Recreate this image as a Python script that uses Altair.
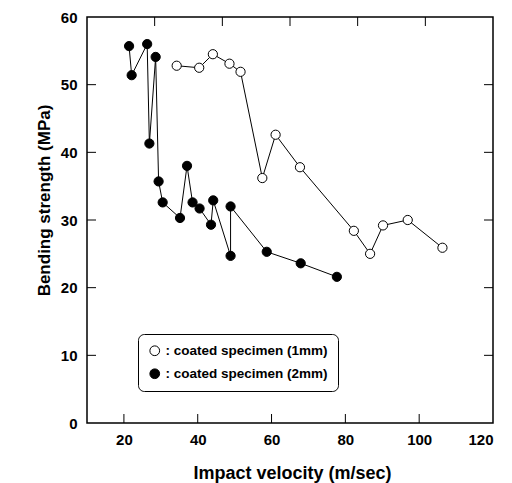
import altair as alt
import pandas as pd

# Data
x_1mm = [34.3, 40.4, 44.1, 48.6, 51.6, 57.5, 61.1, 67.7, 82.3, 86.7, 90.2, 96.9, 106.3]
y_1mm = [52.8, 52.5, 54.5, 53.1, 51.9, 36.2, 42.6, 37.8, 28.4, 25.0, 29.2, 30.0, 25.9]

x_2mm = [21.4, 22.1, 26.3, 26.9, 28.6, 29.4, 30.5, 35.2, 37.1, 38.6, 40.5, 43.6, 44.2, 48.9, 48.9, 58.7, 67.9, 77.7]
y_2mm = [55.7, 51.4, 56.0, 41.3, 54.1, 35.7, 32.6, 30.3, 38.0, 32.6, 31.7, 29.3, 32.9, 24.7, 32.0, 25.3, 23.6, 21.6]

series_names = [": coated specimen (1mm)", ": coated specimen (2mm)"]
x_tick_labels = [20, 40, 60, 80, 100, 120]
x_inner_ticks = [20, 40, 60, 80, 100]
x_top_ticks = [28.33, 46.67, 65.0, 83.33, 101.67]
y_tick_labels = [0, 10, 20, 30, 40, 50, 60]
y_inner_ticks = [10, 20, 30, 40, 50]

rows = []
for i, (a, b) in enumerate(zip(x_1mm, y_1mm)):
    rows.append({"series": series_names[0], "x": a, "y": b, "idx": i})
for i, (a, b) in enumerate(zip(x_2mm, y_2mm)):
    rows.append({"series": series_names[1], "x": a, "y": b, "idx": i})
df = pd.DataFrame(rows)

W, H = 406, 406
FONT = "Liberation Sans"

xscale = alt.Scale(domain=[10, 120], nice=False, zero=False)
yscale = alt.Scale(domain=[0, 60], nice=False)

xaxis = alt.Axis(values=x_tick_labels, title="Impact velocity (m/sec)", ticks=False, domain=False,
                 grid=False, labelFont=FONT, labelFontSize=15, labelFontWeight="bold",
                 labelPadding=9, labelColor="black",
                 titleFont=FONT, titleFontSize=18, titleFontWeight="bold", titleColor="black",
                 titleX=205, titleY=50, titleBaseline="middle", titleAlign="center")
yaxis = alt.Axis(values=y_tick_labels, title="Bending strength (MPa)", ticks=False, domain=False,
                 grid=False, labelFont=FONT, labelFontSize=15, labelFontWeight="bold",
                 labelPadding=10, labelColor="black",
                 titleFont=FONT, titleFontSize=17, titleFontWeight="bold", titleColor="black",
                 titleAngle=270, titleX=-43, titleY=183, titleBaseline="middle", titleAlign="center")

base = alt.Chart(df)

lines = base.mark_line(color="black", strokeWidth=1).encode(
    x=alt.X("x:Q", scale=xscale, axis=xaxis),
    y=alt.Y("y:Q", scale=yscale, axis=yaxis),
    detail="series:N",
    order=alt.Order("idx:Q"),
)

points = base.mark_point(shape="circle", filled=True, stroke="black", strokeWidth=1, size=85, opacity=1).encode(
    x=alt.X("x:Q", scale=xscale, axis=xaxis),
    y=alt.Y("y:Q", scale=yscale, axis=yaxis),
    fill=alt.Fill("series:N", scale=alt.Scale(domain=series_names, range=["white", "black"]),
                  legend=alt.Legend(title=None, orient="none", legendX=51, legendY=317,
                                    strokeColor="black", cornerRadius=6, padding=10,
                                    symbolType="circle", symbolSize=95, symbolStrokeColor="black",
                                    symbolStrokeWidth=1, labelFont=FONT, labelFontSize=13.5,
                                    labelFontWeight="bold", labelColor="black", labelOffset=4,
                                    labelLimit=400, rowPadding=8, fillColor="white")),
)

bt = alt.Chart(pd.DataFrame({"v": x_inner_ticks})).mark_rule(color="black", strokeWidth=1).encode(
    x=alt.X("v:Q", scale=xscale, axis=xaxis), y=alt.value(H), y2=alt.value(H - 9))
tt = alt.Chart(pd.DataFrame({"v": x_top_ticks})).mark_rule(color="black", strokeWidth=1).encode(
    x=alt.X("v:Q", scale=xscale, axis=xaxis), y=alt.value(0), y2=alt.value(9))
lt = alt.Chart(pd.DataFrame({"v": y_inner_ticks})).mark_rule(color="black", strokeWidth=1).encode(
    y=alt.Y("v:Q", scale=yscale, axis=yaxis), x=alt.value(0), x2=alt.value(9))
rt = alt.Chart(pd.DataFrame({"v": y_inner_ticks})).mark_rule(color="black", strokeWidth=1).encode(
    y=alt.Y("v:Q", scale=yscale, axis=yaxis), x=alt.value(W), x2=alt.value(W - 9))

chart = alt.layer(lines, bt, tt, lt, rt, points).properties(
    width=W, height=H,
    autosize=alt.AutoSizeParams(type="none"),
    padding={"left": 87, "top": 17, "right": 19, "bottom": 60},
    background="white",
).configure_view(stroke="black", strokeWidth=1.5)

chart.save("out.html", embed_options={"renderer": "svg", "actions": False})
